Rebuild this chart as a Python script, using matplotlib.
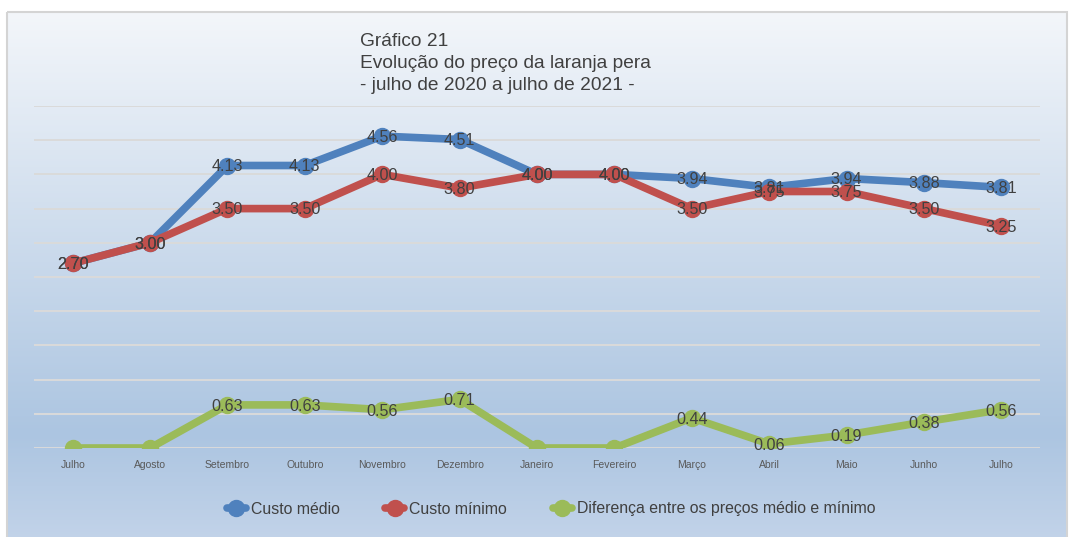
import numpy as np
import matplotlib.pyplot as plt
from matplotlib.patches import Rectangle
from matplotlib.colors import LinearSegmentedColormap

plt.rcParams['font.family'] = ['Liberation Sans', 'DejaVu Sans']

# dados
meses = ['Julho', 'Agosto', 'Setembro', 'Outubro', 'Novembro', 'Dezembro', 'Janeiro',
         'Fevereiro', 'Março', 'Abril', 'Maio', 'Junho', 'Julho']
custo_medio = [2.70, 3.00, 4.13, 4.13, 4.56, 4.51, 4.00, 4.00, 3.94, 3.81, 3.94, 3.88, 3.81]
custo_minimo = [2.70, 3.00, 3.50, 3.50, 4.00, 3.80, 4.00, 4.00, 3.50, 3.75, 3.75, 3.50, 3.25]
diferenca = [0.00, 0.00, 0.63, 0.63, 0.56, 0.71, 0.00, 0.00, 0.44, 0.06, 0.19, 0.38, 0.56]

W, H = 1069, 537
fig = plt.figure(figsize=(W / 100, H / 100), dpi=100)

# fundo em degradê
bg = fig.add_axes([0, 0, 1, 1])
bg.set_xlim(0, W)
bg.set_ylim(H, 0)
bg.axis('off')
cmap = LinearSegmentedColormap.from_list('fundo', [
    (0.0, (243/255, 246/255, 250/255)),
    (0.80, (172/255, 197/255, 225/255)),
    (1.0, (194/255, 211/255, 233/255)),
])
grad = np.linspace(0, 1, 256).reshape(-1, 1)
bg.imshow(grad, cmap=cmap, aspect='auto', extent=[7, 1067, 540, 12], zorder=0)
bg.add_patch(Rectangle((7, 12), 1060, 530, fill=False, edgecolor='#d4d4d4', lw=1.5, zorder=1))

# título
titulo = ['Gráfico 21', 'Evolução do preço da laranja pera', '- julho de 2020 a julho de 2021 -']
for i, linha in enumerate(titulo):
    bg.text(360, 42 + i * 22, linha, fontsize=13.8, color='#404040', ha='left', va='center')

ax = fig.add_axes([34 / W, 1 - 448 / H, (1040 - 34) / W, (448 - 106) / H])
ax.patch.set_alpha(0)
x = np.arange(len(meses))

for y in np.arange(0, 5.01, 0.5):
    ax.axhline(y, color='#dadada', lw=1.4, zorder=1)

series = [
    (custo_medio, '#4F81BD', 'Custo médio'),
    (custo_minimo, '#C0504D', 'Custo mínimo'),
    (diferenca, '#9BBB59', 'Diferença entre os preços médio e mínimo'),
]
for vals, cor, nome in series:
    ax.plot(x, vals, color=cor, lw=5.5, marker='o', markersize=11.5,
            solid_capstyle='round', label=nome, zorder=3)

# rótulos de dados (zeros ficam sem rótulo, como no original)
for vals, cor, nome in series:
    for xi, v in zip(x, vals):
        if v == 0:
            continue
        ax.text(xi, v - 0.02, f'{v:.2f}', ha='center', va='center', fontsize=11.6,
                color='#404040', zorder=5)

ax.set_xlim(-0.5, len(meses) - 0.5)
ax.set_ylim(0, 5)
ax.set_xticks(x)
ax.set_xticklabels(meses, fontsize=7.5, color='#595959')
ax.tick_params(axis='x', length=0, pad=9)
ax.set_yticks([])
for s in ax.spines.values():
    s.set_visible(False)

handles, labels = ax.get_legend_handles_labels()
fig.legend(handles, labels, loc='center', bbox_to_anchor=(551 / W, 1 - 509 / H), ncol=3,
           frameon=False, fontsize=11.4, handlelength=1.2, handletextpad=0.3,
           columnspacing=2.9, labelcolor='#404040')

fig.savefig('out.png', dpi=100)
